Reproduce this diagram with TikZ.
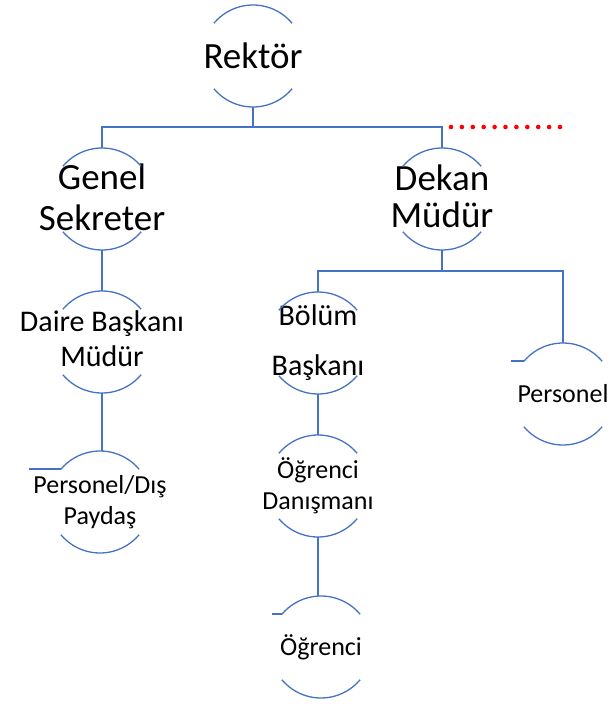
\documentclass[tikz,border=0pt]{standalone}
\usepackage{fontspec}
\setmainfont{Carlito}
\definecolor{orgblue}{HTML}{4472C4}
\definecolor{orgred}{HTML}{FF0000}
\tikzset{
  ring/.style={circle,minimum size=102pt,inner sep=0pt,outer sep=0pt},
  ringline/.style={draw=orgblue,line width=1.3pt},
  link/.style={draw=orgblue,line width=1.6pt},
  bigtext/.style={align=center,text=black,font=\fontsize{37}{39}\selectfont},
  midtext/.style={align=center,text=black,font=\fontsize{30}{35}\selectfont},
  smalltext/.style={align=center,text=black,font=\fontsize{26}{31}\selectfont}
}
\begin{document}
\begin{tikzpicture}[x=1pt,y=1pt]
                \useasboundingbox (0,0) rectangle (614,-706);
                \node[ring] (rektor) at (253,-56) {};
                \node[ring] (genel) at (102,-199) {};
                \node[ring] (dekan) at (442,-199) {};
                \node[ring] (daire) at (102,-342) {};
                \node[ring] (bolum) at (318,-343) {};
                \node[ring] (personel) at (563,-394) {};
                \node[ring] (pdis) at (100,-502) {};
                \node[ring] (danisman) at (318,-486) {};
                \node[ring] (ogrenci) at (321,-647) {};

                \node[bigtext] (rektor-text) at (rektor) {Rektör};
                \node[bigtext] (genel-text) at ([yshift=2pt]genel) {Genel\\[2pt]Sekreter};
                \node[bigtext] (dekan-text) at ([yshift=3pt]dekan) {Dekan\\[-2pt]Müdür};
                \node[midtext] (daire-text) at ([yshift=3pt]daire) {Daire Başkanı\\Müdür};
                \node[midtext] (bolum-text) at (bolum) {Bölüm\\[15pt]Başkanı};
                \node[smalltext] (personel-text) at (personel) {Personel};
                \node[smalltext] (pdis-text) at (pdis) {Personel/Dış\\Paydaş};
                \node[smalltext] (danisman-text) at (danisman) {Öğrenci\\Danışmanı};
                \node[smalltext] (ogrenci-text) at (ogrenci) {Öğrenci};

                \foreach \n in {rektor,genel,dekan,daire,bolum,personel,pdis,danisman,ogrenci}
                  \draw[ringline] (\n.40) arc[start angle=40,end angle=140,radius=51] (\n.220) arc[start angle=220,end angle=320,radius=51];

                \draw[link] (rektor.south) -- ++(0,-20) -| (genel.north); \draw[link] (rektor.south) -- ++(0,-20) -| (dekan.north);
                \draw[link] (genel.south) -- (daire.north); \draw[link] (daire.south) -- (daire.south |- pdis.north);
                \draw[link] (dekan.south) -- ++(0,-21) -| (bolum.north); \draw[link] (dekan.south) -- ++(0,-21) -| (personel.north);
                \draw[link] (bolum.south) -- (danisman.north); \draw[link] (danisman.south) -- (danisman.south |- ogrenci.north);
                \draw[link] (pdis.140) -- ++(-32,0); \draw[link] (personel.140) -- ++(-13,0); \draw[link] (ogrenci.140) -- ++(-10,0);

                \coordinate (dots-start) at (451,-127);
                \coordinate (dots-end) at (562,-127);
                \draw[orgred,line width=4.6pt,line cap=round,dash pattern=on 0pt off 10.9pt] (dots-start) -- (dots-end);
            \end{tikzpicture}
\end{document}
